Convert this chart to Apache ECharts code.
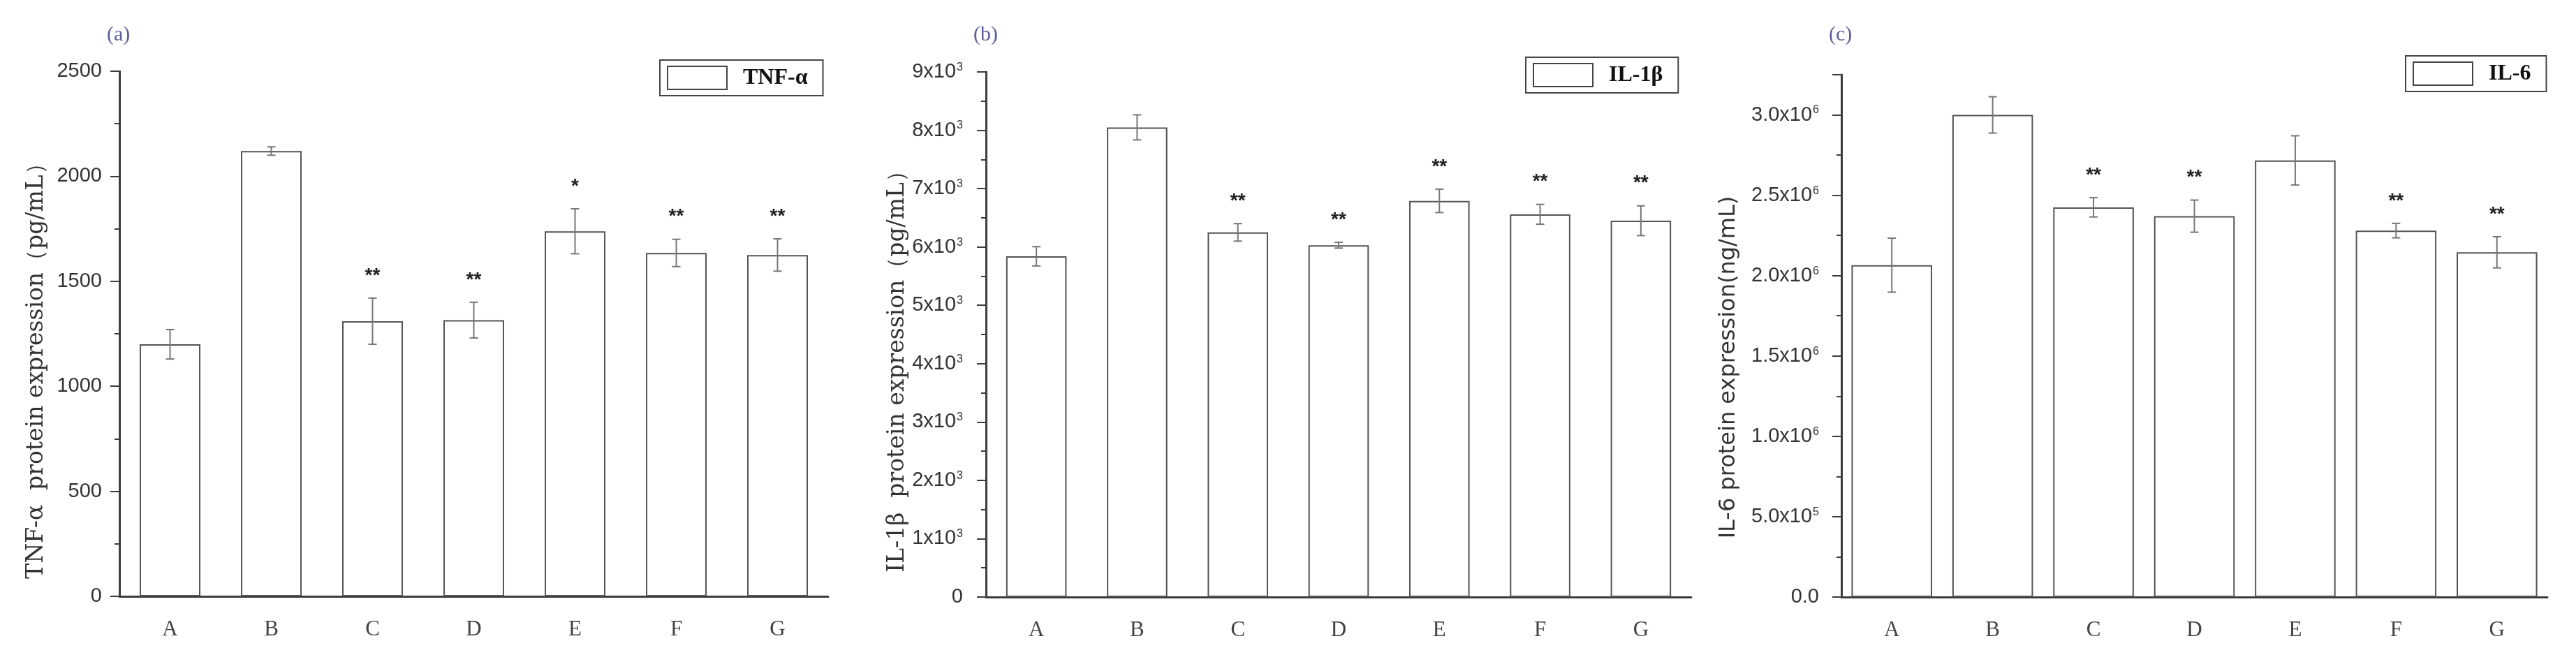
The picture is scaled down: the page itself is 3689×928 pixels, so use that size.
<!DOCTYPE html>
<html>
<head>
<meta charset="utf-8">
<script src="https://cdn.jsdelivr.net/npm/echarts@6/dist/echarts.min.js"></script>
<style>
  html, body { margin: 0; padding: 0; background: #fff; }
  #main { width: 3689px; height: 928px; }
</style>
</head>
<body>
<div id="main"></div>
<script>
// groups on the x axis
var groups = ['A', 'B', 'C', 'D', 'E', 'F', 'G'];

// (a) TNF-α, pg/mL
var tnfMean = [1200, 2120, 1310, 1315, 1738, 1635, 1625];
var tnfErr = [70, 20, 110, 85, 107, 65, 77];
var tnfSig = ['', '', '**', '**', '*', '**', '**'];

// (b) IL-1β, pg/mL
var il1Mean = [5840, 8050, 6250, 6030, 6790, 6560, 6450];
var il1Err = [165, 215, 150, 50, 200, 170, 255];
var il1Sig = ['', '', '**', '**', '**', '**', '**'];

// (c) IL-6, ng/mL
var il6Mean = [2065000, 3000000, 2425000, 2370000, 2717000, 2280000, 2145000];
var il6Err = [168000, 113000, 60000, 100000, 153000, 45000, 97000];
var il6Sig = ['', '', '**', '**', '', '**', '**'];

var axisColor = '#3c3c3c';
var sansFont = '"Liberation Sans", Arial, sans-serif';
var serifFont = '"Liberation Serif", "Times New Roman", serif';
var wideSerif = '"DejaVu Serif", "Liberation Serif", serif';
var wideSans = '"DejaVu Sans", "Liberation Sans", sans-serif';

var chart = echarts.init(document.getElementById('main'));

var panels = [
  { name: 'TNF-α', letter: '(a)', mean: tnfMean, err: tnfErr, sig: tnfSig,
    grid: { left: 171, top: 102, width: 1015, bottom: 74 },
    max: 2500, interval: 500, gap: '40%',
    yName: 'TNF-α  protein expression（pg/mL）', yFont: wideSerif, ySize: 33, nameGap: 102, labelMargin: 25,
    fmt: function (v) { return String(v); },
    legend: { left: 945, top: 86 }, letterLeft: 148 },
  { name: 'IL-1β', letter: '(b)', mean: il1Mean, err: il1Err, sig: il1Sig,
    grid: { left: 1412, top: 103, width: 1010, bottom: 73 },
    max: 9000, interval: 1000, gap: '40%',
    yName: 'IL-1β  protein expression（pg/mL）', yFont: wideSerif, ySize: 33, nameGap: 102, labelMargin: 33,
    fmt: function (v) { return v === 0 ? '0' : '{m|' + (v / 1000) + 'x10}{s|3}'; },
    legend: { left: 2185, top: 82 }, letterLeft: 1389 },
  { name: 'IL-6', letter: '(c)', mean: il6Mean, err: il6Err, sig: il6Sig,
    grid: { left: 2637, top: 107, width: 1011, bottom: 73 },
    max: 3250000, interval: 500000, gap: '20%',
    yName: 'IL-6 protein expression(ng/mL)', yFont: wideSans, ySize: 32, nameGap: 145, labelMargin: 32,
    fmt: function (v) {
      if (v === 0) return '0.0';
      if (v % 500000 !== 0) return '';
      if (v < 1000000) return '{m|' + (v / 100000).toFixed(1) + 'x10}{s|5}';
      return '{m|' + (v / 1000000).toFixed(1) + 'x10}{s|6}';
    },
    legend: { left: 3445, top: 80 }, letterLeft: 2614 }
];

var grids = [], xAxes = [], yAxes = [], series = [], legends = [], titles = [];

panels.forEach(function (p, k) {
  grids.push(p.grid);

  // labelled axis, ticks under each group
  xAxes.push({
    type: 'category', gridIndex: k, data: groups,
    axisLine: { lineStyle: { color: axisColor, width: 3 } },
    axisTick: { alignWithLabel: true, length: 17, lineStyle: { color: axisColor, width: 2 } },
    axisLabel: { margin: 32, fontFamily: serifFont, fontSize: 31, color: '#444' }
  });
  // short ticks between groups
  xAxes.push({
    type: 'category', gridIndex: k, data: groups,
    axisLine: { show: false },
    axisTick: { length: 8, lineStyle: { color: axisColor, width: 2 } },
    axisLabel: { show: false }
  });

  yAxes.push({
    type: 'value', gridIndex: k, min: 0, max: p.max, interval: p.interval,
    splitLine: { show: false },
    axisLine: { show: true, lineStyle: { color: axisColor, width: 3 } },
    axisTick: { show: true, length: 13, lineStyle: { color: axisColor, width: 2 } },
    minorTick: { show: true, splitNumber: 2, length: 7, lineStyle: { color: axisColor, width: 2 } },
    axisLabel: {
      margin: p.labelMargin, formatter: p.fmt,
      fontFamily: sansFont, fontSize: 29, color: '#333',
      rich: {
        m: { fontFamily: sansFont, fontSize: 29, color: '#333' },
        s: { fontFamily: sansFont, fontSize: 16, color: '#333', verticalAlign: 'top', padding: [0, 0, 13, 1] }
      }
    },
    name: p.yName, nameLocation: 'middle', nameRotate: 90, nameGap: p.nameGap,
    nameTextStyle: { fontFamily: p.yFont, fontSize: p.ySize, color: '#333', padding: [0, 90, 0, 0] }
  });

  series.push({
    name: p.name, type: 'bar', xAxisIndex: 2 * k, yAxisIndex: k,
    barCategoryGap: p.gap,
    itemStyle: { color: '#fff', borderColor: '#555', borderWidth: 2 },
    data: p.mean
  });

  var errs = p.err, sig = p.sig;
  series.push({
    type: 'custom', xAxisIndex: 2 * k, yAxisIndex: k, z: 5,
    data: groups.map(function (g, i) { return [i, p.mean[i], errs[i]]; }),
    renderItem: function (params, api) {
      var x = api.value(0), m = api.value(1), e = api.value(2);
      var hi = api.coord([x, m + e]);
      var lo = api.coord([x, m - e]);
      var st = { stroke: '#777', lineWidth: 2 };
      var kids = [
        { type: 'line', shape: { x1: hi[0], y1: hi[1], x2: lo[0], y2: lo[1] }, style: st },
        { type: 'line', shape: { x1: hi[0] - 6, y1: hi[1], x2: hi[0] + 6, y2: hi[1] }, style: st },
        { type: 'line', shape: { x1: lo[0] - 6, y1: lo[1], x2: lo[0] + 6, y2: lo[1] }, style: st }
      ];
      var s = sig[params.dataIndex];
      if (s) {
        kids.push({
          type: 'text', x: hi[0], y: hi[1] - 32,
          style: { text: s, fontFamily: sansFont, fontWeight: 'bold', fontSize: 28,
                   fill: '#222', align: 'center', verticalAlign: 'middle' }
        });
      }
      return { type: 'group', children: kids };
    }
  });

  legends.push({
    data: [p.name], left: p.legend.left, top: p.legend.top,
    orient: 'vertical', icon: 'rect', itemWidth: 85, itemHeight: 33,
    padding: [8, 22, 8, 10],
    borderColor: '#444', borderWidth: 2,
    itemStyle: { color: '#fff', borderColor: '#444', borderWidth: 2 },
    textStyle: { fontFamily: serifFont, fontWeight: 'bold', fontSize: 32, color: '#111', padding: [0, 0, 0, 18] }
  });

  titles.push({
    text: p.letter, left: p.letterLeft, top: 30,
    textStyle: { fontFamily: serifFont, fontWeight: 'normal', fontSize: 30, color: '#5d5d9c' }
  });
});

var option = {
  backgroundColor: '#fff',
  animation: false,
  title: titles,
  legend: legends,
  grid: grids,
  xAxis: xAxes,
  yAxis: yAxes,
  series: series
};

chart.setOption(option);
</script>
</body>
</html>
